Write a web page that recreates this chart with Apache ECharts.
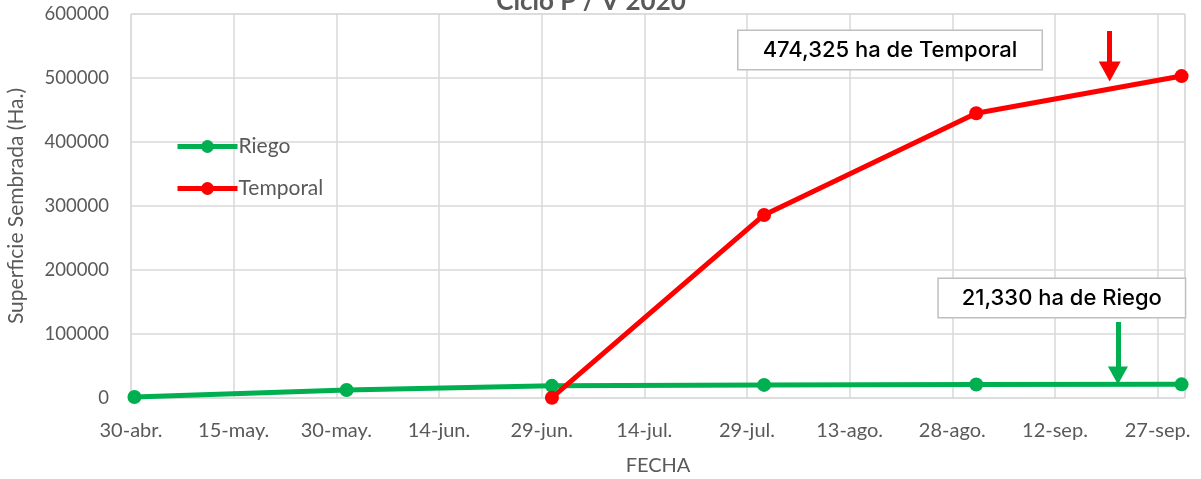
<!DOCTYPE html>
<html>
<head>
<meta charset="utf-8">
<script src="https://cdn.jsdelivr.net/npm/echarts@6/dist/echarts.min.js"></script>
<style>html,body{margin:0;padding:0;background:#fff;}#c{width:1201px;height:479px;}</style>
</head>
<body>
<div id="c"></div>
<script>
// Axis start date and tick labels (every 15 days from 30-abr.)
const axisStart = '2020-04-30';
const xTickLabels = ['30-abr.', '15-may.', '30-may.', '14-jun.', '29-jun.', '14-jul.', '29-jul.', '13-ago.', '28-ago.', '12-sep.', '27-sep.'];
const yTickLabels = ['0', '100000', '200000', '300000', '400000', '500000', '600000'];

// Observation dates
const riegoDates = ['2020-04-30', '2020-05-31', '2020-06-30', '2020-07-31', '2020-08-31', '2020-09-30'];
const riegoValues = [1500, 12500, 19000, 20500, 21000, 21330];
const temporalDates = ['2020-06-30', '2020-07-31', '2020-08-31', '2020-09-30'];
const temporalValues = [500, 286000, 445000, 503000];

const DAY = 86400000;
const t0 = Date.parse(axisStart + 'T00:00:00Z');
function dayOf(d) { return (Date.parse(d + 'T00:00:00Z') - t0) / DAY + 0.5; }
function pairs(dates, vals) { return dates.map((d, i) => [dayOf(d), vals[i]]); }

const GRAY = '#595959';
const FONT = 'Lato';
function boxLabel(text, w) {
  return {
    show: true, position: 'inside', color: '#000', fontFamily: 'Inter', fontWeight: 500, fontSize: 22,
    width: w, height: 38, lineHeight: 38, align: 'center', verticalAlign: 'middle', padding: 0,
    backgroundColor: '#fff', borderColor: '#bfbfbf', borderWidth: 1.5,
    formatter: () => text
  };
}
const chart = echarts.init(document.getElementById('c'));
chart.setOption({
  animation: false,
  title: {
    text: 'Ciclo P / V 2020', left: 586, top: -16, textAlign: 'center',
    textStyle: { fontFamily: FONT, fontSize: 26, fontWeight: 'bold', color: GRAY }
  },
  grid: { left: 131, right: 16, top: 14, bottom: 81, show: true, borderColor: '#d9d9d9', borderWidth: 1,
    outerBoundsMode: 'none', containLabel: false },
  legend: {
    orient: 'vertical', left: 175, top: 136, padding: 0, itemWidth: 60, itemHeight: 16, itemGap: 21,
    lineStyle: { width: 5 },
    textStyle: { fontFamily: FONT, fontSize: 21, color: GRAY, padding: [0, 0, 0, -4] },
    data: ['Riego', 'Temporal']
  },
  xAxis: {
    type: 'value', min: 0, max: 154, interval: 15,
    name: 'FECHA', nameLocation: 'middle', nameGap: 58,
    nameTextStyle: { fontFamily: FONT, fontSize: 20, color: GRAY },
    axisLine: { show: false }, axisTick: { show: false },
    axisLabel: { margin: 23, fontFamily: FONT, fontSize: 20, color: GRAY, showMaxLabel: false,
      formatter: v => xTickLabels[Math.round(v / 15)] || '' },
    splitLine: { show: true, lineStyle: { color: '#d9d9d9', width: 1.5 } }
  },
  yAxis: {
    type: 'value', min: 0, max: 600000, interval: 100000,
    name: 'Superficie Sembrada (Ha.)', nameLocation: 'middle', nameGap: 104,
    nameTextStyle: { fontFamily: FONT, fontSize: 21, color: GRAY },
    axisLine: { show: false }, axisTick: { show: false },
    axisLabel: { margin: 22, fontFamily: FONT, fontSize: 18.5, color: GRAY,
      formatter: v => yTickLabels[Math.round(v / 100000)] },
    splitLine: { show: true, lineStyle: { color: '#d9d9d9', width: 1.5 } }
  },
  series: [
    {
      name: 'Riego', type: 'line', data: pairs(riegoDates, riegoValues),
      symbol: 'circle', symbolSize: 14, color: '#00b050',
      lineStyle: { width: 5, color: '#00b050' }, itemStyle: { color: '#00b050' },
      markPoint: {
        silent: true, symbol: 'rect', symbolSize: 1, itemStyle: { color: 'rgba(0,0,0,0)' },
        label: boxLabel('21,330 ha de Riego', 246),
        data: [{ coord: [136.0, 156250] }]
      },
      markLine: {
        silent: true, symbol: ['none', 'triangle'], symbolSize: [20, 18],
        lineStyle: { color: '#00b050', width: 5, type: 'solid' }, label: { show: false },
        data: [[{ coord: [144.2, 118750] }, { coord: [144.2, 35000] }]]
      }
    },
    {
      name: 'Temporal', type: 'line', data: pairs(temporalDates, temporalValues),
      symbol: 'circle', symbolSize: 14, color: '#ff0000',
      lineStyle: { width: 5, color: '#ff0000' }, itemStyle: { color: '#ff0000' },
      markPoint: {
        silent: true, symbol: 'rect', symbolSize: 1, itemStyle: { color: 'rgba(0,0,0,0)' },
        label: boxLabel('474,325 ha de Temporal', 303),
        data: [{ coord: [110.9, 543750] }]
      },
      markLine: {
        silent: true, symbol: ['none', 'triangle'], symbolSize: [22, 20],
        lineStyle: { color: '#ff0000', width: 5, type: 'solid' }, label: { show: false },
        data: [[{ coord: [143.0, 573440] }, { coord: [143.0, 510000] }]]
      }
    }
  ]
});
</script>
</body>
</html>
